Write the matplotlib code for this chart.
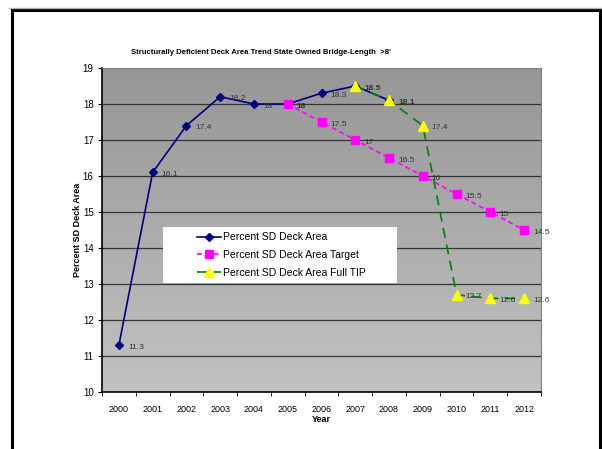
import matplotlib
matplotlib.use('Agg')
import matplotlib.pyplot as plt
from matplotlib.patches import Rectangle
from matplotlib.lines import Line2D
import numpy as np

plt.rcParams['font.family'] = ['Liberation Sans', 'DejaVu Sans']

years = ['2000', '2001', '2002', '2003', '2004', '2005', '2006',
         '2007', '2008', '2009', '2010', '2011', '2012']
# actual series 2000-2008
actual = [11.3, 16.1, 17.4, 18.2, 18.0, 18.0, 18.3, 18.5, 18.1]
# target series 2005-2012
target = [18.0, 17.5, 17.0, 16.5, 16.0, 15.5, 15.0, 14.5]
# full TIP series 2007-2012
full_tip = [18.5, 18.1, 17.4, 12.7, 12.6, 12.6]

x_all = np.arange(len(years))
x_actual = x_all[:len(actual)]
x_target = x_all[5:5 + len(target)]
x_tip = x_all[7:7 + len(full_tip)]

fig = plt.figure(figsize=(6.02, 4.49), dpi=100)
ax = fig.add_axes([102 / 602, 1 - 392 / 449, 439 / 602, 324 / 449])

## gradient background, dark at top
grad = np.linspace(0, 1, 256).reshape(-1, 1)
cmap = matplotlib.colors.LinearSegmentedColormap.from_list('bg', ['#969696', '#c2c2c2'])
ax.imshow(grad, aspect='auto', cmap=cmap, extent=[0, 1, 0, 1], origin='upper',
          transform=ax.transAxes, zorder=0)

ax.set_xlim(-0.5, len(years) - 0.5)
ax.set_ylim(10, 19)
ax.set_yticks(range(10, 20))
ax.set_xticks(x_all)
ax.set_xticklabels(years)
ax.set_xticks(np.arange(-0.5, len(years), 1), minor=True)
ax.tick_params(axis='x', which='major', length=0, labelsize=6.5, pad=9)
ax.tick_params(axis='x', which='minor', length=3, direction='out')
ax.tick_params(axis='y', labelsize=7, length=3, pad=3)
for y in range(11, 19):
    ax.axhline(y, color='#333333', linewidth=0.9, zorder=1)

for s in ['top', 'right']:
    ax.spines[s].set_color('#808080')
    ax.spines[s].set_linewidth(0.8)
ax.spines['left'].set_linewidth(1.2)
ax.spines['bottom'].set_linewidth(1.2)

ax.plot(x_actual, actual, color='#000080', linewidth=1.2, marker='D',
        markersize=4, zorder=3, label='Percent SD Deck Area')
ax.plot(x_target, target, color='#ff00ff', linewidth=1.2, linestyle=(0, (3, 2)),
        marker='s', markersize=5.5, zorder=4, label='Percent SD Deck Area Target')
ax.plot(x_tip, full_tip, color='#008000', linewidth=1.2, linestyle=(0, (6, 4)),
        marker='^', markersize=6.5, markerfacecolor='#ffff00', markeredgecolor='#ffff00',
        zorder=5, label='Percent SD Deck Area Full TIP')

## data labels; points shared by two series are labelled once, in bold
actual_pts = set((int(xi), float(v)) for xi, v in zip(x_actual, actual))
shared = set()
for xi, v in zip(x_target, target):
    shared.add((int(xi), float(v)))
for xi, v in zip(x_tip, full_tip):
    shared.add((int(xi), float(v)))

def put_label(xi, v, bold=False):
    ax.annotate('%g' % v, (xi, v), xytext=(6.5, -1.5), textcoords='offset points',
                fontsize=6, color='#333333', va='center', zorder=6,
                fontweight='bold' if bold else 'normal')

for xi, v in zip(x_actual, actual):
    if (int(xi), float(v)) not in shared:
        put_label(xi, v)
for xi, v in zip(x_target, target):
    put_label(xi, v, bold=(int(xi), float(v)) in actual_pts)
for xi, v in zip(x_tip, full_tip):
    put_label(xi, v, bold=(int(xi), float(v)) in actual_pts)

## legend: white box with the entries laid inside it
ax.add_patch(Rectangle((61 / 439, (392 - 283) / 324), 234 / 439, 56 / 324,
                       transform=ax.transAxes, facecolor='white', edgecolor='none',
                       zorder=7))
leg = ax.legend(loc='center left', bbox_to_anchor=(95 / 439, (392 - 255) / 324),
                fontsize=7.5, frameon=False, borderpad=0, borderaxespad=0,
                handlelength=2.3, handletextpad=0.2, labelspacing=0.75)
leg.set_zorder(8)

fig.text(261 / 602, 1 - 52 / 449,
         "Structurally Deficient Deck Area Trend State Owned Bridge-Length  >8'",
         fontsize=5.6, fontweight='bold', ha='center', va='center')
ax.set_xlabel('Year', fontsize=6.5, fontweight='bold', labelpad=1)
ax.set_ylabel('Percent SD Deck Area', fontsize=6.5, fontweight='bold', labelpad=0.5)

## outer frame
fig.add_artist(Line2D([0.015, 1], [1 - 8 / 449] * 2, color='#b0b0b0',
                      linewidth=1, transform=fig.transFigure))
fig.add_artist(Rectangle((12 / 602, -0.05), (600 - 12) / 602, 1.05 - 10 / 449,
                         fill=False, edgecolor='black', linewidth=2.2,
                         transform=fig.transFigure))

fig.savefig('out.png', dpi=100)
